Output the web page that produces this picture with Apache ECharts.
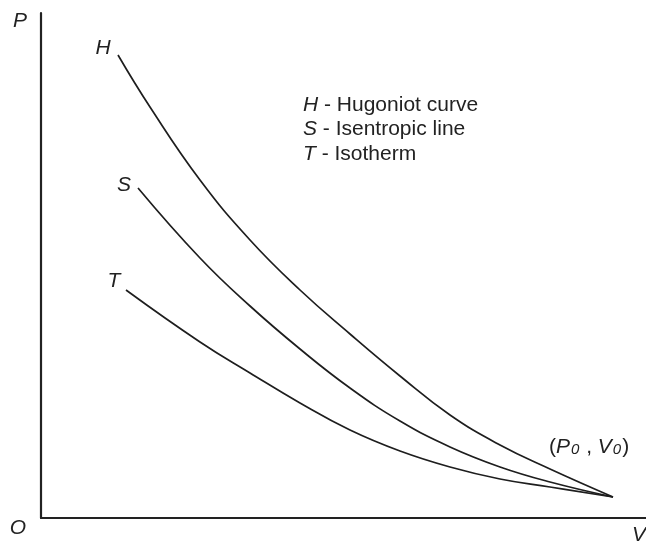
<!DOCTYPE html>
<html>
<head>
<meta charset="utf-8">
<script src="https://cdn.jsdelivr.net/npm/echarts@6/dist/echarts.min.js"></script>
<style>html,body{margin:0;padding:0;background:#fff}#c{width:646px;height:543px}</style>
</head>
<body>
<div id="c"></div>
<script>
// Hugoniot curve (H)
var hV = [77, 109, 159, 209, 259, 309, 359, 409, 459, 509, 572];
var hP = [463, 411, 338, 278, 228, 184, 142, 103, 73, 49, 21];
// Isentropic line (S)
var sV = [97, 159, 209, 259, 309, 359, 409, 459, 509, 572];
var sP = [330, 260, 212, 169, 130, 97, 71, 51, 36, 21];
// Isotherm (T)
var tV = [85, 159, 209, 259, 309, 359, 409, 459, 509, 572];
var tP = [228, 176, 145, 115, 88, 67, 51, 39, 31, 21];

var legendLines = [
  ['H', ' - Hugoniot curve'],
  ['S', ' - Isentropic line'],
  ['T', ' - Isotherm']
];

function zip(a, b) { return a.map(function (v, i) { return [v, b[i]]; }); }

var FONT = 'Liberation Sans, Arial, Helvetica, sans-serif';
var INK = '#1e1e1e';

function lineSeries(name, v, p) {
  return {
    name: name, type: 'line', data: zip(v, p),
    showSymbol: false, smooth: 0.45,
    lineStyle: { color: INK, width: 1.7 },
    silent: true
  };
}

function itxt(t, x, y, align) {
  return {
    type: 'text', x: x, y: y,
    style: { text: t, font: 'italic 21px ' + FONT, fill: '#222',
             textAlign: align || 'center', textVerticalAlign: 'middle' }
  };
}

var graphics = [
  itxt('P', 20, 21), itxt('H', 103, 48), itxt('S', 124, 185), itxt('T', 114, 281),
  itxt('O', 18, 528), itxt('V', 639, 535)
];
legendLines.forEach(function (l, i) {
  graphics.push({
    type: 'text', x: 303, y: 105 + i * 24.5,
    style: {
      text: '{i|' + l[0] + '}{n|' + l[1] + '}',
      textVerticalAlign: 'middle', textAlign: 'left',
      rich: {
        i: { font: 'italic 21px ' + FONT, fill: '#222' },
        n: { font: '21px ' + FONT, fill: '#222' }
      }
    }
  });
});
graphics.push({
  type: 'text', x: 549, y: 447,
  style: {
    text: '{n|(}{i|P}{s|0}{n| , }{i|V}{s|0}{n|)}',
    textVerticalAlign: 'middle', textAlign: 'left',
    rich: {
      n: { font: '21px ' + FONT, fill: '#222', verticalAlign: 'middle' },
      i: { font: 'italic 21px ' + FONT, fill: '#222', verticalAlign: 'middle' },
      s: { font: 'italic 15px ' + FONT, fill: '#222', verticalAlign: 'bottom', padding: [0, 1, 0, 1] }
    }
  }
});

var chart = echarts.init(document.getElementById('c'), null, { renderer: 'canvas' });
chart.setOption({
  animation: false,
  backgroundColor: '#fff',
  grid: { left: 41, right: 0, top: 13, bottom: 25, containLabel: false },
  xAxis: {
    type: 'value', min: 0, max: 605,
    axisLine: { show: true, lineStyle: { color: '#222', width: 2.2 } },
    axisTick: { show: false }, axisLabel: { show: false }, splitLine: { show: false }
  },
  yAxis: {
    type: 'value', min: 0, max: 505,
    axisLine: { show: true, onZero: false, lineStyle: { color: '#222', width: 2.2 } },
    axisTick: { show: false }, axisLabel: { show: false }, splitLine: { show: false }
  },
  series: [
    lineSeries('Hugoniot curve', hV, hP),
    lineSeries('Isentropic line', sV, sP),
    lineSeries('Isotherm', tV, tP)
  ],
  graphic: graphics
});
</script>
</body>
</html>
